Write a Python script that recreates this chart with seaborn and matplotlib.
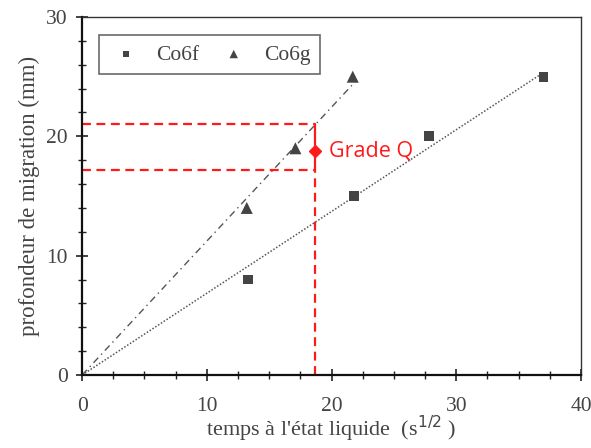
import numpy as np
import pandas as pd
import matplotlib
matplotlib.use("Agg")
import matplotlib.pyplot as plt
import seaborn as sns

sns.set_style("ticks")
plt.rcParams['font.family'] = ['Liberation Serif', 'DejaVu Serif']

# --- data ---
co6f_x = [13.3, 21.8, 27.8, 37.0]
co6f_y = [8.0, 15.0, 20.0, 25.0]
co6g_x = [13.2, 17.1, 21.7]
co6g_y = [14.0, 19.0, 25.0]

# fit lines through origin, extent of each line
co6f_line_end = 37.0
co6g_line_end = 21.9

# "Grade Q" marker
grade_x = 18.7
grade_y = 18.8
grade_low = 17.2
grade_high = 21.0


def slope_origin(x, y):
    x = np.asarray(x)
    y = np.asarray(y)
    return (x * y).sum() / (x * x).sum()


fig = plt.figure(figsize=(5.91, 4.48), dpi=100)
ax = fig.add_axes([0.139, 0.163, 0.844, 0.799])

# fitted lines
a_f = slope_origin(co6f_x, co6f_y)
a_g = slope_origin(co6g_x, co6g_y)
xf = np.array([0, co6f_line_end])
xg = np.array([0, co6g_line_end])
sns.lineplot(x=xf, y=a_f * xf, ax=ax, color="#555555", lw=1.1,
             linestyle=(0, (1, 1.2)))
sns.lineplot(x=xg, y=a_g * xg, ax=ax, color="#555555", lw=1.0,
             linestyle=(0, (5, 3, 1, 3)))

# points
sns.scatterplot(x=co6f_x, y=co6f_y, marker="s", color="#444444", s=50,
                edgecolor="none", ax=ax, zorder=3, label="Co6f")
sns.scatterplot(x=co6g_x, y=co6g_y, marker="^", color="#444444", s=75,
                edgecolor="none", ax=ax, zorder=3, label="Co6g")

# red Grade Q construction
red = "#ff1a1a"
ax.plot([0, grade_x], [grade_high, grade_high], color=red, lw=1.6, ls=(0, (4, 2.5)))
ax.plot([0, grade_x], [grade_low, grade_low], color=red, lw=1.6, ls=(0, (4, 2.5)))
ax.plot([grade_x, grade_x], [grade_low, grade_high], color=red, lw=1.6)
ax.plot([grade_x, grade_x], [0, grade_low], color=red, lw=1.6, ls=(0, (4, 2.5)))
ax.plot([grade_x], [grade_y], marker="D", color=red, ms=6, zorder=4)
ax.text(grade_x + 1.1, grade_y, "Grade Q", color=red, fontsize=15.5,
        family=["Open Sans", "DejaVu Sans"], va="center", ha="left")

ax.set_xlim(0, 40)
ax.set_ylim(0, 30)
ax.set_xticks([0, 10, 20, 30, 40])
ax.set_yticks([0, 10, 20, 30])
ax.set_xticks(np.arange(0, 40.1, 2.5), minor=True)
ax.set_yticks(np.arange(0, 30.1, 2), minor=True)
ax.tick_params(which="major", direction="inout", length=9, width=1.2,
               labelsize=15.5, colors="#222222", labelcolor="#444444", pad=6,
               bottom=True, left=True)
ax.tick_params(axis="x", which="major", pad=11)
ax.tick_params(which="minor", direction="inout", length=6, width=1.0,
               colors="#222222", bottom=True, left=True)

for side in ["left", "bottom"]:
    ax.spines[side].set_linewidth(1.6)
    ax.spines[side].set_color("#111111")
for side in ["top", "right"]:
    ax.spines[side].set_visible(True)
    ax.spines[side].set_linewidth(1.0)
    ax.spines[side].set_color("#333333")

ax.set_xlabel("temps à l'état liquide  (s$^{1/2}$ )", fontsize=16, color="#444444", labelpad=-1)
ax.set_ylabel("profondeur de migration (mm)", fontsize=16.5, color="#444444", labelpad=4)

leg = ax.legend(loc="upper left", bbox_to_anchor=(0.034, 0.95), ncol=2,
                borderaxespad=0, fontsize=15.5, frameon=True, fancybox=False,
                handletextpad=0.6, handlelength=1.6, columnspacing=0.8,
                borderpad=0.45, markerscale=0.7)
leg.get_frame().set_edgecolor("#444444")
leg.get_frame().set_linewidth(1.2)
for t in leg.get_texts():
    t.set_color("#444444")

fig.savefig("out.png", dpi=100)
